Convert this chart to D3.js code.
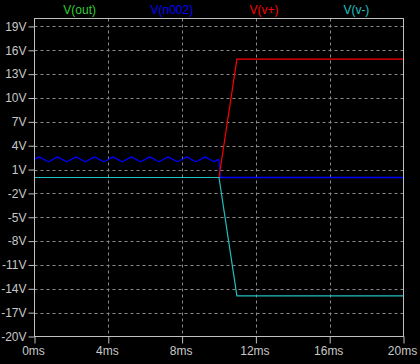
<!DOCTYPE html>
<html><head><meta charset="utf-8">
<script src="https://cdn.jsdelivr.net/npm/d3@7"></script>
<style>
html,body{margin:0;padding:0;background:#000;}
svg{display:block;}
text{font-family:"Liberation Sans",Arial,sans-serif;}
</style></head>
<body>
<svg id="c" width="420" height="364"></svg>
<script>
const seriesNames = ["V(out)", "V(n002)", "V(v+)", "V(v-)"];
const seriesColors = ["#33cc33", "#0000ff", "#ff0000", "#20c0c0"];
const yTicks = [19, 16, 13, 10, 7, 4, 1, -2, -5, -8, -11, -14, -17, -20];
const xTicks = [0, 4, 8, 12, 16, 20];

// time in ms, value in V
const outT = [0, 20];
const outV = [0, 0];
const n002T = [0,0.25,0.5,0.75,1,1.25,1.5,1.75,2,2.25,2.5,2.75,3,3.25,3.5,3.75,4,4.25,4.5,4.75,5,5.25,5.5,5.75,6,6.25,6.5,6.75,7,7.25,7.5,7.75,8,8.25,8.5,8.75,9,9.25,9.5,9.75,10,10.08,20];
const n002V = [2.28,2.55,2.28,2.01,2.28,2.55,2.28,2.01,2.28,2.55,2.28,2.01,2.28,2.55,2.28,2.01,2.28,2.55,2.28,2.01,2.28,2.55,2.28,2.01,2.28,2.55,2.28,2.01,2.28,2.55,2.28,2.01,2.28,2.55,2.28,2.01,2.28,2.55,2.28,2.01,2.28,0,0];
const vpT = [0, 10.0, 10.97, 20];
const vpV = [0, 0, 14.9, 14.9];
const vmT = [0, 10.0, 10.97, 20];
const vmV = [0, 0, -14.9, -14.9];

const svg = d3.select("#c");
const L = 34.5, R = 403.5, T = 18.5, B = 336.5;
const x = d3.scaleLinear().domain([0, 20]).range([L, R]);
const y = d3.scaleLinear().domain([-20, 20]).range([B, T]);

svg.append("rect").attr("width", 420).attr("height", 364).attr("fill", "#000");

// grid
const grid = svg.append("g").attr("stroke", "#8a8a8a").attr("stroke-width", 1).attr("stroke-dasharray", "3,3");
grid.selectAll("line.h").data(yTicks.filter(d => d > -20)).enter().append("line")
  .attr("x1", L).attr("x2", R).attr("y1", d => Math.round(y(d)) + 0.5).attr("y2", d => Math.round(y(d)) + 0.5);
grid.selectAll("line.v").data(xTicks.filter(d => d > 0 && d < 20)).enter().append("line")
  .attr("y1", T).attr("y2", B).attr("x1", d => Math.round(x(d)) + 0.5).attr("x2", d => Math.round(x(d)) + 0.5);

// traces
const tr = svg.append("g").attr("fill", "none").attr("stroke-width", 1.2);
const curve = d3.line().x(d => x(d[0])).y(d => y(d[1]));
const smooth = d3.line().x(d => x(d[0])).y(d => y(d[1])).curve(d3.curveMonotoneX);
const zip = (a, b) => a.map((t, i) => [t, b[i]]);
tr.append("path").attr("d", curve(zip(outT, outV))).attr("stroke", seriesColors[0]);
tr.append("path").attr("d", smooth(zip(n002T, n002V))).attr("stroke", seriesColors[1]).attr("stroke-width", 1.4);
tr.append("path").attr("d", curve(zip(vpT, vpV))).attr("stroke", seriesColors[2]);
tr.append("path").attr("d", curve(zip(vmT, vmV))).attr("stroke", seriesColors[3]);

// border
svg.append("rect").attr("x", L).attr("y", T).attr("width", R - L).attr("height", B - T)
  .attr("fill", "none").attr("stroke", "#c0c0c0").attr("stroke-width", 1);

// axes
const ya = svg.append("g").attr("transform", `translate(${L},0)`)
  .call(d3.axisLeft(y).tickValues(yTicks).tickSize(6).tickPadding(2).tickFormat(d => d + "V"));
const xa = svg.append("g").attr("transform", `translate(0,${B})`)
  .call(d3.axisBottom(x).tickValues(xTicks).tickSize(7).tickPadding(3).tickFormat(d => d + "ms"));
[ya, xa].forEach(a => {
  a.select(".domain").remove();
  a.selectAll(".tick line").attr("stroke", "#c0c0c0");
  a.selectAll(".tick text").attr("fill", "#c8c8c8").style("font-size", "12px")
    .style("font-family", '"Liberation Sans",Arial,sans-serif');
});
xa.selectAll(".tick text").attr("dx", "-1.5");

// legend
const lw = (R - L) / 4;
svg.append("g").selectAll("text").data(seriesNames).enter().append("text")
  .attr("x", (d, i) => L + lw * (i + 0.5) - 1).attr("y", 14)
  .attr("text-anchor", "middle").attr("fill", (d, i) => seriesColors[i])
  .style("font-size", "12px").text(d => d);
</script>
</body></html>
